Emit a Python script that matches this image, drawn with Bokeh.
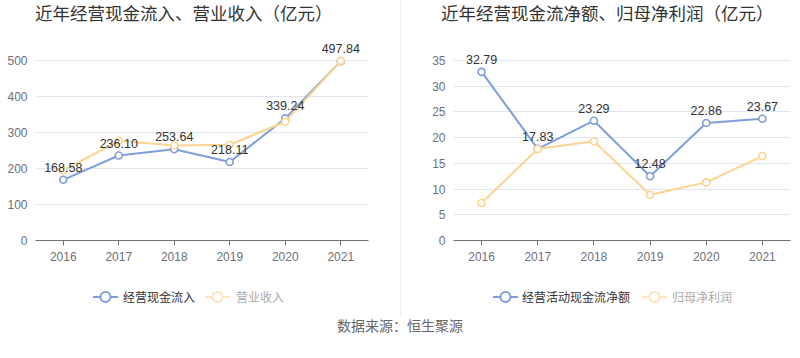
from bokeh.plotting import figure
from bokeh.models import (ColumnDataSource, FactorRange, Range1d, FixedTicker,
                          LabelSet, Div)
from bokeh.core.properties import value
from bokeh.layouts import row, column
from bokeh.embed import file_html
from bokeh.resources import INLINE

years = ["2016", "2017", "2018", "2019", "2020", "2021"]
cash_in = [168.58, 236.10, 253.64, 218.11, 339.24, 497.84]
revenue = [195, 277, 264, 266, 330, 499]
cash_net = [32.79, 17.83, 23.29, 12.48, 22.86, 23.67]
net_profit = [7.3, 17.8, 19.3, 8.9, 11.3, 16.4]

left_title = "近年经营现金流入、营业收入（亿元）"
right_title = "近年经营现金流净额、归母净利润（亿元）"
left_names = ["经营现金流入", "营业收入"]
right_names = ["经营活动现金流净额", "归母净利润"]
source_text = "数据来源：恒生聚源"

BLUE = "#7f9fd9"
ORANGE = "#fdd38f"
CJK = "Noto Sans CJK SC"
NUM = "Liberation Sans"

AXIS_PX = 180   # pixel height from 0 to the top tick
FRAME_PX = 200  # frame height (extra room above the top tick for labels)


def icon(color):
    return ('<svg width="25" height="14" style="display:block">'
            '<line x1="0" y1="7" x2="25" y2="7" stroke="%s" stroke-width="2"/>'
            '<circle cx="12.5" cy="7" r="5" fill="white" stroke="%s" stroke-width="2"/>'
            '</svg>' % (color, color))


def legend_div(width, names, pos):
    (i1, t1, i2, t2) = pos
    html = ('<div style="position:relative;width:%dpx;height:26px;font-family:\'%s\';'
            'font-size:12px;line-height:14px">' % (width, CJK))
    html += '<div style="position:absolute;left:%dpx;top:6px">%s</div>' % (i1, icon(BLUE))
    html += ('<div style="position:absolute;left:%dpx;top:6px;color:#333333;white-space:nowrap">%s</div>'
             % (t1, names[0]))
    html += '<div style="position:absolute;left:%dpx;top:6px">%s</div>' % (i2, icon("#ffe4bb"))
    html += ('<div style="position:absolute;left:%dpx;top:6px;color:#aaaaaa;white-space:nowrap">%s</div>'
             % (t2, names[1]))
    html += '</div>'
    return Div(text=html, width=width, height=26, margin=0)


def title_div(width, text, left):
    return Div(text=text, width=width, height=26, margin=0,
               styles={"font-family": CJK, "font-size": "17.5px", "color": "#333333",
                       "line-height": "26px", "padding-left": "%dpx" % left,
                       "white-space": "nowrap", "box-sizing": "border-box"})


def make_chart(width, bl, br, ymax, ystep, s1, s2):
    p = figure(width=width, height=258, x_range=FactorRange(factors=years, range_padding=0),
               y_range=Range1d(0, ymax * FRAME_PX / AXIS_PX), output_backend="svg",
               toolbar_location=None, min_border_left=bl, min_border_right=br,
               min_border_top=34 - (FRAME_PX - AXIS_PX), min_border_bottom=44, margin=0)
    p.outline_line_color = None
    p.background_fill_color = "white"
    p.border_fill_color = "white"

    p.xgrid.grid_line_color = None
    p.ygrid.grid_line_color = "#e0e6f1"
    p.yaxis.ticker = FixedTicker(ticks=list(range(0, ymax + 1, ystep)))
    p.yaxis.axis_line_color = None
    p.yaxis.major_tick_line_color = None
    p.yaxis.minor_tick_line_color = None
    p.yaxis.major_tick_out = 0
    p.yaxis.major_tick_in = 0
    p.yaxis.major_label_standoff = 8
    p.yaxis.major_label_text_color = "#6e7079"
    p.yaxis.major_label_text_font = NUM
    p.yaxis.major_label_text_font_size = "12px"

    p.xaxis.axis_line_color = "#6e7079"
    p.xaxis.major_tick_line_color = "#6e7079"
    p.xaxis.major_tick_out = 5
    p.xaxis.major_tick_in = 0
    p.xaxis.major_label_standoff = 6
    p.xaxis.major_label_text_color = "#6e7079"
    p.xaxis.major_label_text_font = NUM
    p.xaxis.major_label_text_font_size = "12px"

    src = ColumnDataSource(dict(x=years, a=s1, b=s2,
                                lab=["%.2f" % v for v in s1]))
    p.line("x", "a", source=src, line_color=BLUE, line_width=2)
    p.scatter("x", "a", source=src, size=7, line_color=BLUE, line_width=1.6,
              fill_color="white")
    p.line("x", "b", source=src, line_color=ORANGE, line_width=2)
    p.scatter("x", "b", source=src, size=7, line_color=ORANGE, line_width=1.6,
              fill_color="white")
    labels = LabelSet(x="x", y="a", text="lab", source=src, text_align="center",
                      text_baseline="bottom", y_offset=8, text_font=value(NUM),
                      text_font_size=value("12.5px"), text_color="#333333")
    p.add_layout(labels)
    return p


p1 = make_chart(400, 35, 32, 500, 100, cash_in, revenue)
p2 = make_chart(399, 52, 10, 35, 5, cash_net, net_profit)

col1 = column(title_div(400, left_title, 35), p1,
              legend_div(400, left_names, (93, 123, 205, 236)), spacing=0, margin=0)
col2 = column(title_div(399, right_title, 40), p2,
              legend_div(399, right_names, (92, 121, 241, 271)), spacing=0, margin=0)
divider = Div(width=1, height=316, margin=0, styles={"background-color": "#eeeeee"})
src_div = Div(text=source_text, width=800, height=18, margin=0,
              styles={"text-align": "center", "font-family": CJK, "font-size": "14px",
                      "color": "#666666", "line-height": "18px", "width": "800px"})
layout = column(row(col1, divider, col2, spacing=0, margin=0), src_div, spacing=0, margin=0)

open("out.html", "w").write(file_html(layout, INLINE))
